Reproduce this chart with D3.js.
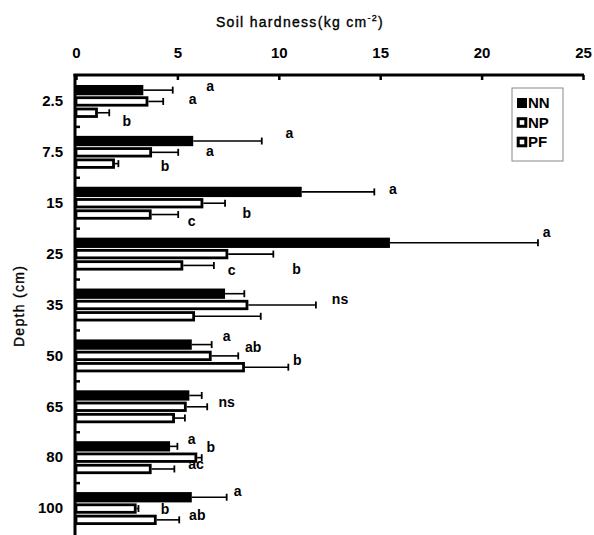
<!DOCTYPE html>
<html>
<head>
<meta charset="utf-8">
<script src="https://cdn.jsdelivr.net/npm/d3@7"></script>
<style>
  body { margin: 0; background: #fff; }
  svg text { font-family: "Liberation Sans", Arial, sans-serif; fill: #000; }
</style>
</head>
<body>
<svg id="chart"></svg>
<script>
// soil hardness by depth, three treatments
const depths = ["2.5", "7.5", "15", "25", "35", "50", "65", "80", "100"];
const series = ["NN", "NP", "PF"];

const nnMean = [3.32, 5.78, 11.13, 15.48, 7.35, 5.71, 5.59, 4.64, 5.71];
const nnErr  = [1.45, 3.38, 3.58, 7.30, 0.95, 0.98, 0.61, 0.36, 1.72];
const npMean = [3.57, 3.75, 6.28, 7.51, 8.50, 6.69, 5.46, 5.98, 2.99];
const npErr  = [0.73, 1.29, 1.07, 2.22, 3.33, 1.31, 1.01, 0.22, 0.09];
const pfMean = [1.08, 1.92, 3.73, 5.29, 5.87, 8.33, 4.88, 3.73, 3.98];
const pfErr  = [0.56, 0.17, 1.31, 1.51, 3.24, 2.14, 0.49, 1.12, 1.11];

const xTicks = [0, 5, 10, 15, 20, 25];

// significance letters : depth, text, hardness value where it sits, shift in band units
const noteDepth = ["2.5", "2.5", "2.5", "7.5", "7.5", "7.5", "15", "15", "15",
                   "25", "25", "25", "35", "50", "50", "50", "65", "80", "80", "80",
                   "100", "100", "100"];
const noteText  = ["a", "a", "b", "a", "a", "b", "a", "b", "c",
                   "a", "b", "c", "ns", "a", "ab", "b", "ns", "a", "b", "ac",
                   "a", "b", "ab"];
const noteAt    = [6.61, 5.75, 2.50, 10.52, 6.60, 4.39, 15.62, 8.42, 5.70,
                   23.21, 10.88, 7.68, 13.02, 7.43, 8.74, 10.91, 7.43, 5.70, 6.64, 5.92,
                   7.97, 4.39, 5.98];
const noteShift = [-0.28, -0.03, 0.40, -0.37, -0.02, 0.29, -0.26, 0.20, 0.37,
                   -0.41, 0.31, 0.33, -0.10, -0.37, -0.16, 0.10, -0.08, -0.35, -0.19, 0.14,
                   -0.32, 0.02, 0.15];

const width = 594, height = 535;
const svg = d3.select("#chart").attr("width", width).attr("height", height);

const x = d3.scaleLinear().domain([0, 25]).range([76, 583]);
const y0 = d3.scaleBand().domain(depths).range([76, 534]).padding(0);
const y1 = d3.scaleBand().domain(series).range([0, y0.bandwidth()])
    .paddingInner(0).paddingOuter(0.75);

const means = {NN: nnMean, NP: npMean, PF: pfMean};
const errs  = {NN: nnErr,  NP: npErr,  PF: pfErr};

const rows = [];
depths.forEach((d, i) => {
  series.forEach(s => rows.push({depth: d, s: s, v: means[s][i], e: errs[s][i]}));
});

const sw = 2.8;
const g = svg.append("g");

// bars
g.selectAll("rect.bar")
  .data(rows)
  .join("rect")
    .attr("class", "bar")
    .attr("x", x(0))
    .attr("y", d => y0(d.depth) + y1(d.s) + 0.5 + sw / 2)
    .attr("width", d => x(d.v) - x(0) - sw / 2)
    .attr("height", y1.bandwidth() - 1 - sw)
    .attr("fill", d => d.s === "NN" ? "#000" : "#fff")
    .attr("stroke", "#000")
    .attr("stroke-width", sw);

// error bars
const eb = g.selectAll("g.err").data(rows).join("g").attr("class", "err");
eb.append("line")
  .attr("x1", d => x(d.v))
  .attr("x2", d => x(d.v + d.e))
  .attr("y1", d => y0(d.depth) + y1(d.s) + y1.bandwidth() / 2)
  .attr("y2", d => y0(d.depth) + y1(d.s) + y1.bandwidth() / 2)
  .attr("stroke", "#000").attr("stroke-width", 1.6);
eb.append("line")
  .attr("x1", d => x(d.v + d.e))
  .attr("x2", d => x(d.v + d.e))
  .attr("y1", d => y0(d.depth) + y1(d.s) + y1.bandwidth() / 2 - 3.5)
  .attr("y2", d => y0(d.depth) + y1(d.s) + y1.bandwidth() / 2 + 3.5)
  .attr("stroke", "#000").attr("stroke-width", 1.8);

// x axis on top
const xAxis = svg.append("g")
  .attr("transform", "translate(0,75)")
  .call(d3.axisTop(x).tickValues(xTicks).tickSizeInner(-5).tickSizeOuter(0).tickPadding(17));
xAxis.select(".domain").attr("stroke-width", 3).attr("d", `M${x(0) - 2.5},0H${x(25) + 1}`);
xAxis.selectAll(".tick line").attr("stroke-width", 2.5);
xAxis.selectAll(".tick text")
  .style("font-size", "15px").style("font-weight", "bold");

// y axis on the left
const yAxis = svg.append("g")
  .attr("transform", "translate(75,0)")
  .call(d3.axisLeft(y0).tickSize(0).tickPadding(12));
yAxis.select(".domain").attr("stroke-width", 3).attr("d", `M0,74V535`);
yAxis.selectAll(".tick text")
  .style("font-size", "15px").style("font-weight", "bold");

// tick marks between categories
svg.append("g").selectAll("line")
  .data(depths.slice(0, -1))
  .join("line")
    .attr("x1", 75).attr("x2", 80)
    .attr("y1", d => y0(d) + y0.bandwidth())
    .attr("y2", d => y0(d) + y0.bandwidth())
    .attr("stroke", "#000").attr("stroke-width", 2.5);

// significance letters
svg.append("g").selectAll("text")
  .data(noteText.map((t, i) => ({t: t, depth: noteDepth[i], at: noteAt[i], k: noteShift[i]})))
  .join("text")
    .attr("x", d => x(d.at))
    .attr("y", d => y0(d.depth) + y0.bandwidth() * (0.5 + d.k))
    .attr("dy", "0.3em")
    .attr("text-anchor", "middle")
    .style("font-size", "14px").style("font-weight", "bold")
    .text(d => d.t);

// titles
const xt = svg.append("text")
  .attr("x", 300).attr("y", 27)
  .attr("text-anchor", "middle")
  .attr("stroke", "#000").attr("stroke-width", 0.35)
  .style("font-size", "14px").style("letter-spacing", "1.3px");
xt.append("tspan").text("Soil hardness(kg cm");
xt.append("tspan").attr("dy", -6).style("font-size", "9px").text("-2");
xt.append("tspan").attr("dy", 6).text(")");

svg.append("text")
  .attr("transform", "translate(24,306) rotate(-90)")
  .attr("text-anchor", "middle")
  .attr("stroke", "#000").attr("stroke-width", 0.35)
  .style("font-size", "14px").style("letter-spacing", "1.3px")
  .text("Depth (cm)");

// legend
const leg = svg.append("g").attr("transform", "translate(512,88)");
leg.append("rect").attr("width", 51).attr("height", 73)
  .attr("fill", "#fff").attr("stroke", "#888").attr("stroke-width", 1);
series.forEach((s, i) => {
  const row = leg.append("g").attr("transform", `translate(5,${15 + i * 19.5})`);
  row.append("rect").attr("x", 1.2).attr("y", -3.8).attr("width", 7.6).attr("height", 7.6)
    .attr("fill", s === "NN" ? "#000" : "#fff")
    .attr("stroke", "#000").attr("stroke-width", s === "NN" ? 2.4 : 3);
  row.append("text").attr("x", 11).attr("dy", "0.36em")
    .style("font-size", "15px").style("font-weight", "bold").text(s);
});
</script>
</body>
</html>
